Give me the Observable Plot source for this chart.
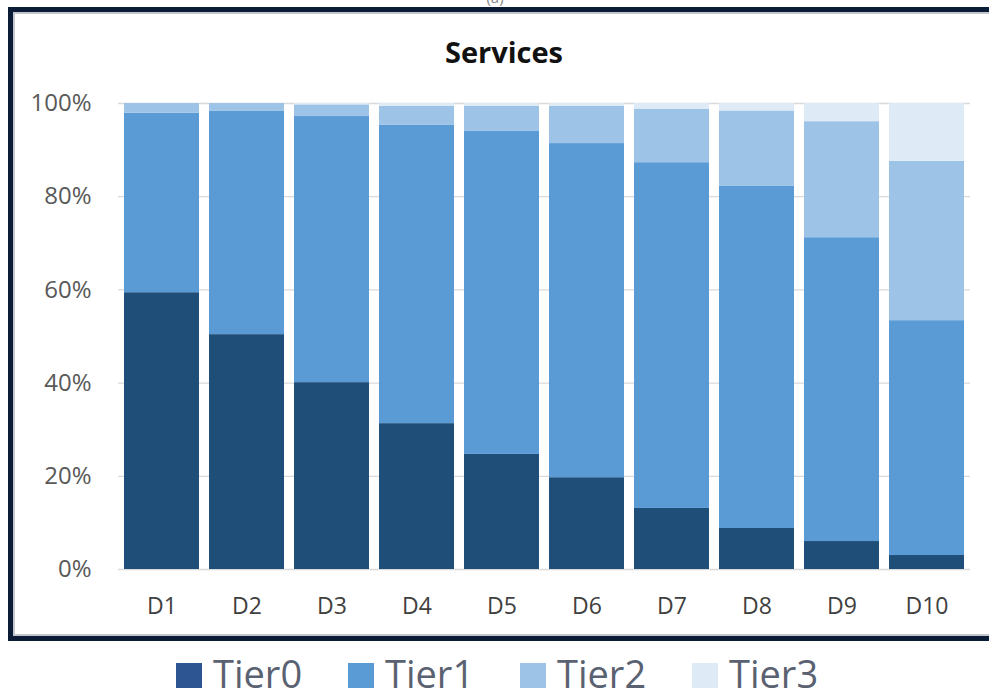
<!DOCTYPE html>
<html>
<head>
<meta charset="utf-8">
<script src="https://cdn.jsdelivr.net/npm/d3@7"></script>
<script src="https://cdn.jsdelivr.net/npm/@observablehq/plot@0.6"></script>
<style>
  html, body { margin: 0; padding: 0; background: #fff; }
  body { width: 989px; height: 700px; position: relative; overflow: hidden; font-family: "Open Sans", sans-serif; }
  #frame { position: absolute; left: 8px; top: 7px; width: 1000px; height: 624px;
           border-top: 5px solid #0b1c36; border-left: 5px solid #0b1c36; border-bottom: 5px solid #0b1c36;
           box-shadow: inset 2px 2px 0 #c4c8ce, inset 0 -2px 0 #c4c8ce; pointer-events: none; z-index: 2; }
  #cut { position: absolute; left: 470px; width: 50px; top: -13px; text-align: center; font-size: 15px; color: #888; }
  #title { position: absolute; left: 404px; width: 200px; top: 37px; text-align: center;
           font-family: "Open Sans", sans-serif; font-weight: 700; font-size: 29px; line-height: 29px; color: #111; }
  #chart { position: absolute; left: 0; top: 0; }
  #legend { position: absolute; left: 176px; top: 657px; display: flex; align-items: baseline;
            font-family: "Open Sans", sans-serif; font-size: 38px; line-height: 33px; color: #5a6272; }
  .item { display: flex; align-items: baseline; width: 172px; flex: none; }
  .sw { display: inline-block; width: 26px; height: 25px; margin-right: 11px; }
</style>
</head>
<body>
<div id="cut">(a)</div>
<div id="frame"></div>
<div id="title">Services</div>
<div id="chart"></div>
<div id="legend"></div>
<script>
const categories = ["D1", "D2", "D3", "D4", "D5", "D6", "D7", "D8", "D9", "D10"];
const tiers = ["Tier0", "Tier1", "Tier2", "Tier3"];
const tier0 = [59.4, 50.4, 40.1, 31.3, 24.7, 19.7, 13.1, 8.8, 6.0, 3.0];
const tier1 = [38.5, 47.9, 57.1, 64.0, 69.3, 71.7, 74.2, 73.5, 65.2, 50.4];
const tier2 = [2.1, 1.7, 2.5, 4.1, 5.4, 8.0, 11.5, 16.1, 24.9, 34.2];
const tier3 = [0.0, 0.0, 0.3, 0.6, 0.6, 0.6, 1.2, 1.6, 3.9, 12.4];
const tierColors = ["#1f4e79", "#5b9bd5", "#9dc3e6", "#deebf7"];
const yTicks = [0, 20, 40, 60, 80, 100];

const series = [tier0, tier1, tier2, tier3];
const rows = [];
categories.forEach((c, i) => {
  tiers.forEach((t, k) => rows.push({cat: c, tier: t, value: series[k][i]}));
});

const chart = Plot.plot({
  width: 989,
  height: 650,
  marginLeft: 118,
  marginRight: 19,
  marginTop: 103,
  marginBottom: 81,
  style: {background: "transparent", fontFamily: "'Open Sans', sans-serif"},
  x: {domain: categories, paddingInner: 0.12, paddingOuter: 0.06, label: null},
  y: {domain: [0, 100], label: null},
  color: {domain: tiers, range: tierColors},
  marks: [
    Plot.gridY(yTicks, {stroke: "#d9d9d9", strokeOpacity: 1, strokeWidth: 1.3}),
    Plot.barY(rows, {x: "cat", y: "value", fill: "tier"}),
    Plot.axisY(yTicks, {tickSize: 0, tickPadding: 27, fontSize: 24, color: "#595959",
                        tickFormat: d => d + "%", label: null}),
    Plot.axisX({tickSize: 0, tickPadding: 28, fontSize: 23, color: "#404040", label: null})
  ]
});
document.getElementById("chart").appendChild(chart);

const legend = document.getElementById("legend");
tiers.forEach((t, k) => {
  const item = document.createElement("div");
  item.className = "item";
  const sw = document.createElement("span");
  sw.className = "sw";
  sw.style.background = k === 0 ? "#2c5592" : tierColors[k];
  const lab = document.createElement("span");
  lab.textContent = t;
  item.appendChild(sw);
  item.appendChild(lab);
  legend.appendChild(item);
});
</script>
</body>
</html>
